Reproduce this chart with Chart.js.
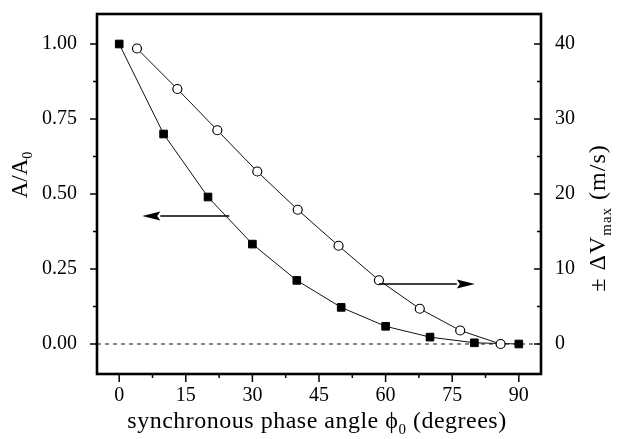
<!DOCTYPE html>
<html>
<head>
<meta charset="utf-8">
<script src="https://cdn.jsdelivr.net/npm/chart.js@4.4.1/dist/chart.umd.min.js"></script>
<style>
  html, body { margin: 0; padding: 0; background: #fff; }
  #wrap { width: 619px; height: 439px; }
</style>
</head>
<body>
<div id="wrap"><canvas id="c" width="619" height="439"></canvas></div>
<script>
// Normalised amplitude A/A0 versus synchronous phase angle (left axis)
const phiAmp   = [0, 10, 20, 30, 40, 50, 60, 70, 80, 90];
const ampRatio = [1.00, 0.70, 0.49, 0.333, 0.212, 0.122, 0.059, 0.023, 0.004, 0.0];

// Maximum velocity excursion ±ΔVmax in m/s (right axis)
const phiVel = [4.0, 13.1, 22.1, 31.1, 40.2, 49.4, 58.5, 67.7, 76.8, 85.9];
const dVmax  = [39.4, 34.0, 28.5, 23.0, 17.9, 13.1, 8.5, 4.7, 1.8, 0.0];

// Tick values
const xTicks   = [0, 15, 30, 45, 60, 75, 90];
const xMinor   = [7.5, 22.5, 37.5, 52.5, 67.5, 82.5];
const ampTicks = [0, 0.25, 0.5, 0.75, 1.0];
const ampMinor = [0.125, 0.375, 0.625, 0.875];
const velTicks = [0, 10, 20, 30, 40];
const velMinor = [5, 15, 25, 35];

// Dashed zero reference and the two arrows pointing at each curve's axis
const zeroLineX   = [-5, 95];
const leftArrowX  = [24.8, 5.2];
const leftArrowY  = [0.427, 0.427];
const rightArrowX = [58.5, 80.1];
const rightArrowY = [8.0, 8.0];

const FONT = "'Liberation Serif', 'Times New Roman', serif";
const INK = '#000';

function drawRich(ctx, parts, x, y, angle, spacing) {
  ctx.save();
  ctx.translate(x, y);
  ctx.rotate(angle);
  ctx.fillStyle = INK;
  ctx.textAlign = 'left';
  ctx.textBaseline = 'alphabetic';
  ctx.letterSpacing = (spacing || 0) + 'px';
  let total = 0;
  parts.forEach(p => {
    ctx.font = p.size + 'px ' + FONT;
    p.w = ctx.measureText(p.t).width;
    total += p.w;
  });
  let cx = -total / 2;
  parts.forEach(p => {
    ctx.font = p.size + 'px ' + FONT;
    ctx.fillText(p.t, cx, p.dy || 0);
    cx += p.w;
  });
  ctx.restore();
}

function arrow(ctx, x0, y0, x1, y1) {
  const dir = Math.sign(x1 - x0);
  const head = 18, half = 4.5;
  ctx.save();
  ctx.strokeStyle = INK;
  ctx.fillStyle = INK;
  ctx.lineWidth = 1.5;
  ctx.beginPath();
  ctx.moveTo(x0, y0);
  ctx.lineTo(x1 - dir * head, y1);
  ctx.stroke();
  ctx.beginPath();
  ctx.moveTo(x1, y1);
  ctx.lineTo(x1 - dir * head, y1 - half);
  ctx.lineTo(x1 - dir * head + dir * 3, y1);
  ctx.lineTo(x1 - dir * head, y1 + half);
  ctx.closePath();
  ctx.fill();
  ctx.restore();
}

const framePlugin = {
  id: 'frame',
  afterDatasetsDraw(chart) {
    const ctx = chart.ctx;
    const { left, right, top, bottom } = chart.chartArea;
    const sx = chart.scales.x, sa = chart.scales.yA, sv = chart.scales.yV;

    // arrows
    arrow(ctx, sx.getPixelForValue(leftArrowX[0]), sa.getPixelForValue(leftArrowY[0]),
               sx.getPixelForValue(leftArrowX[1]), sa.getPixelForValue(leftArrowY[1]));
    arrow(ctx, sx.getPixelForValue(rightArrowX[0]), sv.getPixelForValue(rightArrowY[0]),
               sx.getPixelForValue(rightArrowX[1]), sv.getPixelForValue(rightArrowY[1]));

    // ticks: outward on the left and bottom, inward on the right
    ctx.save();
    ctx.strokeStyle = INK;
    ctx.lineWidth = 1.5;
    ctx.beginPath();
    xTicks.forEach(v => { const p = sx.getPixelForValue(v); ctx.moveTo(p, bottom); ctx.lineTo(p, bottom + 8); });
    xMinor.forEach(v => { const p = sx.getPixelForValue(v); ctx.moveTo(p, bottom); ctx.lineTo(p, bottom + 4); });
    ampTicks.forEach(v => { const p = sa.getPixelForValue(v); ctx.moveTo(left - 7, p); ctx.lineTo(left, p); });
    ampMinor.forEach(v => { const p = sa.getPixelForValue(v); ctx.moveTo(left - 4, p); ctx.lineTo(left, p); });
    velTicks.forEach(v => { const p = sv.getPixelForValue(v); ctx.moveTo(right - 7, p); ctx.lineTo(right, p); });
    velMinor.forEach(v => { const p = sv.getPixelForValue(v); ctx.moveTo(right - 4, p); ctx.lineTo(right, p); });
    ctx.stroke();

    // frame
    ctx.lineWidth = 2.6;
    ctx.strokeRect(left, top, right - left, bottom - top);
    ctx.restore();

    // axis titles
    drawRich(ctx, [
      { t: 'A/A', size: 23 },
      { t: '0', size: 14, dy: 5 }
    ], 27, 175, -Math.PI / 2, 0);
    drawRich(ctx, [
      { t: '\u00B1 \u0394V', size: 24 },
      { t: 'max', size: 15, dy: 6 },
      { t: ' (m/s)', size: 24 }
    ], 605, 218, -Math.PI / 2, 1);
    drawRich(ctx, [
      { t: 'synchronous phase angle \u03D5', size: 24 },
      { t: '0', size: 15, dy: 6 },
      { t: ' (degrees)', size: 24 }
    ], 317, 428, 0, 0.5);
  }
};

const tickFont = { family: FONT, size: 20 };

new Chart(document.getElementById('c'), {
  type: 'scatter',
  data: {
    datasets: [
      {
        label: 'zero',
        data: zeroLineX.map(x => ({ x, y: 0 })),
        yAxisID: 'yA',
        showLine: true,
        borderColor: '#111',
        borderWidth: 1,
        borderDash: [4, 4],
        pointRadius: 0,
        order: 3
      },
      {
        label: 'A/A0',
        data: phiAmp.map((x, i) => ({ x, y: ampRatio[i] })),
        yAxisID: 'yA',
        showLine: true,
        borderColor: '#111',
        borderWidth: 1,
        pointStyle: 'rect',
        pointRadius: 5.4,
        pointBackgroundColor: '#000',
        pointBorderColor: '#000',
        pointBorderWidth: 1,
        order: 2
      },
      {
        label: 'dVmax',
        data: phiVel.map((x, i) => ({ x, y: dVmax[i] })),
        yAxisID: 'yV',
        showLine: true,
        borderColor: '#111',
        borderWidth: 1,
        pointStyle: 'circle',
        pointRadius: 4.5,
        pointBackgroundColor: '#fff',
        pointBorderColor: '#000',
        pointBorderWidth: 1.2,
        order: 1
      }
    ]
  },
  options: {
    responsive: false,
    animation: false,
    devicePixelRatio: 1,
    layout: { padding: { top: 14, left: 0, right: 0, bottom: 0 } },
    plugins: { legend: { display: false }, tooltip: { enabled: false } },
    scales: {
      x: {
        type: 'linear',
        min: -5, max: 95,
        grid: { display: false },
        border: { display: false },
        afterBuildTicks: s => { s.ticks = xTicks.map(v => ({ value: v })); },
        afterFit: s => { s.height = 65; s.paddingLeft = 0; s.paddingRight = 0; },
        ticks: { font: tickFont, color: INK, padding: 2, maxRotation: 0 }
      },
      yA: {
        type: 'linear',
        position: 'left',
        min: -0.1, max: 1.1,
        grid: { display: false },
        border: { display: false },
        afterBuildTicks: s => { s.ticks = ampTicks.map(v => ({ value: v })); },
        afterFit: s => { s.width = 97; s.paddingTop = 0; s.paddingBottom = 0; },
        ticks: { font: tickFont, color: INK, padding: 12, callback: v => v.toFixed(2) }
      },
      yV: {
        type: 'linear',
        position: 'right',
        min: -4, max: 44,
        grid: { display: false },
        border: { display: false },
        afterBuildTicks: s => { s.ticks = velTicks.map(v => ({ value: v })); },
        afterFit: s => { s.width = 78; s.paddingTop = 0; s.paddingBottom = 0; },
        ticks: { font: tickFont, color: INK, padding: 6, callback: v => String(v) }
      }
    }
  },
  plugins: [framePlugin]
});
</script>
</body>
</html>
